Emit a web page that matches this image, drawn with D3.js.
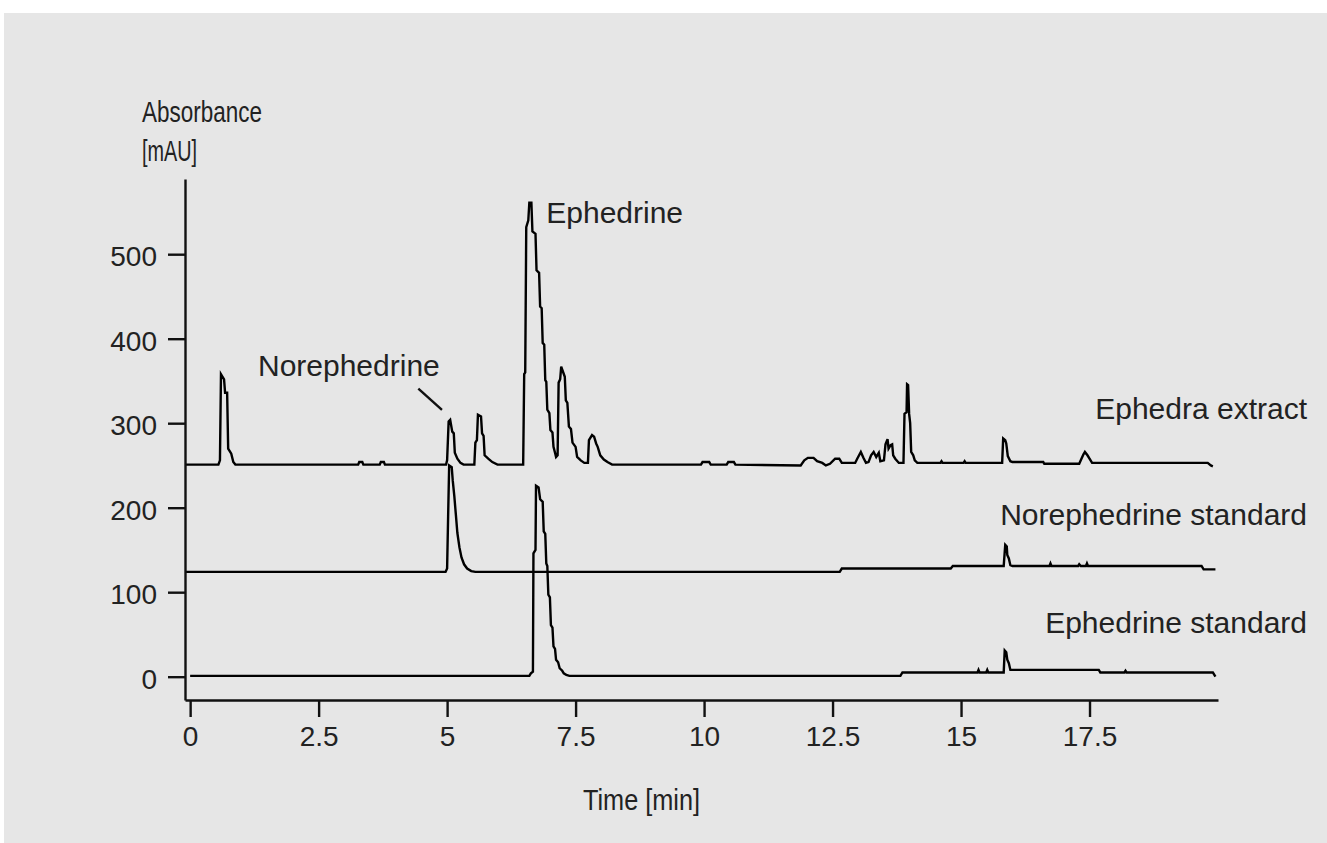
<!DOCTYPE html>
<html>
<head>
<meta charset="utf-8">
<script src="https://cdn.jsdelivr.net/npm/d3@7"></script>
<style>
  html, body { margin: 0; padding: 0; background: #ffffff; }
  svg { display: block; }
  .axis-title { font-family: "Liberation Sans", Arial, sans-serif; font-size: 30px; fill: #222; }
  .tick text { font-family: "Liberation Sans", Arial, sans-serif; font-size: 28px; fill: #222; }
  .trace-label { font-family: "Liberation Sans", Arial, sans-serif; font-size: 30px; fill: #222; }
</style>
</head>
<body>
<svg id="chart"></svg>
<script>
// Chromatogram data: [time (min), absorbance (mAU)]
const extractTrace = [
  [-0.1, 251], [0.55, 251], [0.58, 256], [0.6, 358], [0.66, 352], [0.68, 336], [0.72, 336],
  [0.74, 270], [0.8, 264], [0.84, 254], [0.88, 251],
  [3.27, 251], [3.29, 254], [3.35, 254], [3.37, 251],
  [3.69, 251], [3.71, 254], [3.77, 254], [3.79, 251],
  [4.98, 251], [5.0, 256], [5.03, 302], [5.06, 304], [5.1, 290], [5.13, 288], [5.15, 265],
  [5.2, 258], [5.26, 253], [5.32, 251],
  [5.53, 251], [5.55, 277], [5.58, 280], [5.6, 310], [5.66, 308], [5.68, 288], [5.71, 285],
  [5.73, 262], [5.8, 258], [5.88, 254], [5.98, 251],
  [6.48, 251], [6.5, 358], [6.52, 360], [6.54, 532], [6.58, 540], [6.6, 561], [6.64, 561],
  [6.66, 527], [6.72, 524], [6.74, 481], [6.79, 478], [6.81, 438], [6.84, 436], [6.86, 395],
  [6.89, 393], [6.91, 351], [6.93, 349], [6.95, 316], [6.99, 312], [7.01, 292], [7.05, 289],
  [7.07, 272], [7.1, 265], [7.12, 260],
  [7.15, 262], [7.17, 348], [7.2, 352], [7.22, 367], [7.26, 360], [7.29, 355], [7.31, 327],
  [7.34, 324], [7.37, 296], [7.41, 293], [7.44, 277], [7.5, 272], [7.53, 260], [7.6, 256],
  [7.67, 253], [7.74, 253],
  [7.76, 280], [7.82, 286], [7.86, 284], [7.9, 276], [7.93, 272], [7.98, 262], [8.05, 257],
  [8.12, 254], [8.21, 251],
  [9.94, 251], [9.97, 254], [10.1, 254], [10.13, 251],
  [10.44, 251], [10.47, 254], [10.58, 254], [10.61, 251],
  [11.88, 250], [11.95, 256], [12.02, 259], [12.13, 259], [12.2, 255], [12.3, 253], [12.37, 250],
  [12.45, 252], [12.55, 258], [12.63, 258], [12.68, 253],
  [12.94, 253], [12.98, 258], [13.05, 266], [13.1, 259], [13.15, 253], [13.2, 254], [13.25, 262],
  [13.3, 266], [13.35, 260], [13.4, 265], [13.43, 255], [13.5, 256], [13.53, 275], [13.57, 281],
  [13.59, 270], [13.63, 274], [13.66, 275], [13.68, 262], [13.72, 258], [13.79, 253],
  [13.88, 253], [13.9, 311], [13.94, 313], [13.95, 346], [13.97, 345], [13.99, 311], [14.01, 300],
  [14.03, 266], [14.07, 262], [14.1, 256], [14.15, 253],
  [14.6, 253], [14.62, 255], [14.64, 253], [15.05, 253], [15.07, 255], [15.09, 253],
  [15.8, 253], [15.82, 282], [15.86, 280], [15.88, 276], [15.91, 261], [15.96, 255], [16.0, 254],
  [16.6, 254], [16.62, 252], [17.3, 252], [17.33, 256], [17.38, 263], [17.41, 266], [17.46, 262],
  [17.5, 258], [17.55, 253],
  [19.8, 253], [19.86, 250], [19.9, 249]
];

const norephedrineTrace = [
  [-0.1, 124], [4.97, 124], [5.0, 128], [5.02, 190], [5.04, 250], [5.09, 248], [5.11, 232],
  [5.14, 214], [5.17, 192], [5.2, 170], [5.24, 153], [5.28, 141], [5.33, 133], [5.39, 128],
  [5.47, 125], [5.55, 124],
  [12.64, 124], [12.68, 128], [14.8, 128], [14.84, 131],
  [15.83, 131], [15.86, 156], [15.89, 154], [15.9, 144], [15.93, 140], [15.96, 132], [16.0, 131],
  [16.72, 131], [16.74, 134], [16.76, 131], [17.28, 131], [17.3, 133], [17.33, 131],
  [17.43, 131], [17.45, 134], [17.47, 131],
  [19.68, 131], [19.72, 127], [19.95, 127]
];

const ephedrineTrace = [
  [0, 1], [6.6, 1], [6.63, 4], [6.67, 6], [6.68, 146], [6.72, 150], [6.73, 226], [6.78, 224],
  [6.81, 210], [6.86, 207], [6.88, 172], [6.91, 169], [6.93, 134], [6.95, 131], [6.97, 97],
  [7.0, 94], [7.02, 61], [7.05, 58], [7.07, 36], [7.1, 33], [7.12, 20], [7.16, 17], [7.19, 10],
  [7.24, 7], [7.27, 4], [7.32, 2], [7.38, 1],
  [13.82, 1], [13.86, 5], [15.32, 5], [15.34, 8], [15.36, 5], [15.49, 5], [15.51, 8], [15.53, 5],
  [15.83, 5], [15.85, 31], [15.88, 29], [15.9, 20], [15.93, 16], [15.96, 8],
  [17.68, 8], [17.71, 5], [18.18, 5], [18.2, 7], [18.22, 5], [19.9, 5], [19.95, 0]
];

const traceNames = ["Ephedra extract", "Norephedrine standard", "Ephedrine standard"];
const xTicks = [0, 2.5, 5, 7.5, 10, 12.5, 15, 17.5];
const yTicks = [0, 100, 200, 300, 400, 500];

const width = 1327;
const height = 843;

// axis frame in pixels
const plotLeft = 185;
const plotRight = 1218;
const plotTop = 179;
const plotBottom = 700;

const x = d3.scaleLinear().domain([-0.1, 20]).range([plotLeft, plotRight]);
const y = d3.scaleLinear().domain([-27.6, 589]).range([plotBottom, plotTop]);

const svg = d3.select("#chart")
    .attr("width", width)
    .attr("height", height)
    .attr("viewBox", [0, 0, width, height]);

// grey panel
svg.append("rect")
    .attr("x", 4)
    .attr("y", 13)
    .attr("width", width - 4)
    .attr("height", height - 13)
    .attr("fill", "#e6e6e6");

// traces
const line = d3.line()
    .x(d => x(d[0]))
    .y(d => y(d[1]));

const traces = [extractTrace, norephedrineTrace, ephedrineTrace];

svg.append("g")
  .selectAll("path")
  .data(traces)
  .join("path")
    .attr("fill", "none")
    .attr("stroke", "#000")
    .attr("stroke-width", 2.4)
    .attr("stroke-linejoin", "miter")
    .attr("d", line);

// x axis
svg.append("g")
    .attr("transform", `translate(0,${plotBottom})`)
    .call(d3.axisBottom(x).tickValues(xTicks).tickSize(17).tickSizeOuter(0).tickPadding(9)
        .tickFormat(d => String(d)))
    .call(g => g.select(".domain").attr("stroke", "#111").attr("stroke-width", 2.4))
    .call(g => g.selectAll(".tick line").attr("stroke", "#111").attr("stroke-width", 2.4));

// y axis
svg.append("g")
    .attr("transform", `translate(${plotLeft},0)`)
    .call(d3.axisLeft(y).tickValues(yTicks).tickSize(17).tickSizeOuter(0).tickPadding(11))
    .call(g => g.select(".domain").attr("stroke", "#111").attr("stroke-width", 2.4))
    .call(g => g.selectAll(".tick line").attr("stroke", "#111").attr("stroke-width", 2.4))
    .call(g => g.selectAll(".tick text").attr("dy", "0.42em"));

svg.selectAll(".tick text").attr("fill", "#222");

// axis titles (condensed face in the original, so squeeze to its width)
svg.append("text")
    .attr("class", "axis-title")
    .attr("x", 142)
    .attr("y", 122)
    .attr("textLength", 120)
    .attr("lengthAdjust", "spacingAndGlyphs")
    .text("Absorbance");

svg.append("text")
    .attr("class", "axis-title")
    .attr("x", 142)
    .attr("y", 161)
    .attr("textLength", 55)
    .attr("lengthAdjust", "spacingAndGlyphs")
    .text("[mAU]");

svg.append("text")
    .attr("class", "axis-title")
    .attr("x", 583)
    .attr("y", 810)
    .attr("textLength", 117)
    .attr("lengthAdjust", "spacingAndGlyphs")
    .text("Time [min]");

// peak labels
svg.append("text")
    .attr("class", "trace-label")
    .attr("x", x(6.93))
    .attr("y", y(537))
    .text("Ephedrine");

svg.append("text")
    .attr("class", "trace-label")
    .attr("x", x(1.32))
    .attr("y", y(356))
    .text("Norephedrine");

svg.append("line")
    .attr("x1", x(4.44)).attr("y1", y(341))
    .attr("x2", x(4.9)).attr("y2", y(315.7))
    .attr("stroke", "#111")
    .attr("stroke-width", 2.4);

// trace names on the right
const traceLabelV = [305, 180, 52];
svg.append("g")
  .selectAll("text")
  .data(traceNames)
  .join("text")
    .attr("class", "trace-label")
    .attr("x", 1307)
    .attr("y", (d, i) => y(traceLabelV[i]))
    .attr("text-anchor", "end")
    .text(d => d);
</script>
</body>
</html>
